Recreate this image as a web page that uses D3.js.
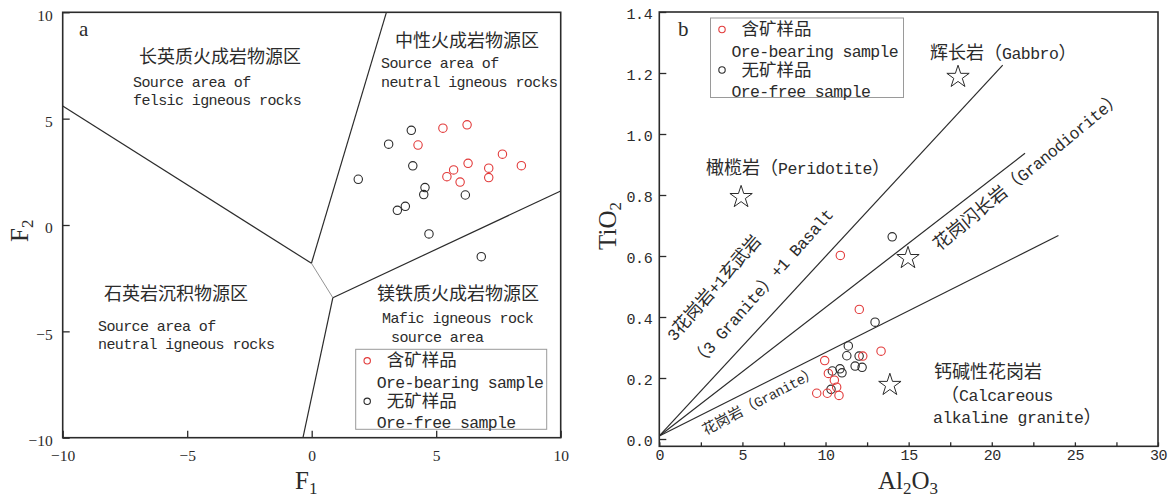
<!DOCTYPE html>
<html>
<head>
<meta charset="utf-8">
<script src="https://cdn.jsdelivr.net/npm/d3@7/dist/d3.min.js"></script>
<style>
  html, body { margin: 0; padding: 0; background: #fff; }
  svg { display: block; }
  text { white-space: pre; }
</style>
</head>
<body>
<script>
// ---------- Panel a: F1–F2 discriminant function scores ----------
const oreF1  = [5.27, 6.24, 4.27, 7.66, 6.28, 8.42, 5.70, 7.11, 5.43, 7.11, 5.96];
const oreF2  = [4.55, 4.71, 3.76, 3.33, 2.90, 2.79, 2.59, 2.67, 2.27, 2.23, 2.02];
const freeF1 = [4.00, 3.09, 4.06, 1.87, 4.55, 4.50, 6.17, 3.76, 3.44, 4.71, 6.81];
const freeF2 = [4.45, 3.80, 2.78, 2.15, 1.76, 1.43, 1.41, 0.88, 0.69, -0.42, -1.49];
// provenance field boundaries: [F1 start, F1 end] and [F2 start, F2 end]
const fieldLinesF1 = [[-10, -0.01], [-0.01, 3.0], [0.85, 10], [0.85, -0.35]];
const fieldLinesF2 = [[5.6, -1.80], [-1.80, 10], [-3.42, 1.6], [-3.42, -10]];
const junctionF1 = [-0.01, 0.85];
const junctionF2 = [-1.80, -3.42];
const ticksA = [-10, -5, 0, 5, 10];

// ---------- Panel b: Al2O3–TiO2 ----------
const oreAl  = [10.89, 12.03, 13.34, 9.95, 12.24, 10.17, 10.53, 10.67, 9.47, 10.11, 10.81];
const oreTi  = [0.602, 0.425, 0.288, 0.257, 0.272, 0.215, 0.193, 0.170, 0.150, 0.150, 0.143];
const freeAl = [14.01, 12.98, 11.37, 11.28, 12.02, 11.78, 12.20, 10.41, 10.87, 10.99, 10.33];
const freeTi = [0.663, 0.383, 0.305, 0.273, 0.272, 0.239, 0.235, 0.223, 0.230, 0.217, 0.163];
// reference rock compositions (stars)
const rockNames = ["Gabbro", "Peridotite", "Granodiorite", "Calc-alkaline granite"];
const rockAl = [17.97, 4.92, 14.96, 13.87];
const rockTi = [1.187, 0.793, 0.593, 0.177];
// mixing trend lines from the origin
const trendNames = ["3 Granite + 1 Basalt", "Granodiorite", "Granite"];
const trendStartAl = 0, trendStartTi = 0.01;
const trendEndAl = [20.66, 22.0, 24.01];
const trendEndTi = [1.226, 0.937, 0.667];
const ticksBx = [0, 5, 10, 15, 20, 25, 30];
const minorBx = [2.5, 7.5, 12.5, 17.5, 22.5, 27.5];
const ticksBy = [0, 0.2, 0.4, 0.6, 0.8, 1.0, 1.2, 1.4];

// ---------- styling ----------
const MONO = "'Liberation Mono', 'Noto Sans CJK SC', monospace";
const CJK = "'Noto Sans CJK SC', sans-serif";
const SERIF = "'Liberation Serif', 'DejaVu Serif', serif";
const INK = "#2b2b2b";
const RED = "#e23a3a";

const svg = d3.select("body").append("svg")
  .attr("width", 1168).attr("height", 499);

const CJK_RUN = /[\u3000-\u9fff\uff00-\uffef]+|[^\u3000-\u9fff\uff00-\uffef]+/g;
const IS_CJK = /[\u3000-\u9fff\uff00-\uffef]/;

// Chinese runs in the CJK face, Latin runs in a monospace face
// tightened to a fixed advance per character
function label(g, str, x, y, cjkSize, latSize, latAdv, opts = {}) {
  const t = g.append("text")
    .attr("fill", opts.fill || INK)
    .attr("font-size", latSize)
    .attr("dy", "0.34em")
    .attr("text-anchor", opts.anchor || "start");
  if (opts.rotate !== undefined) {
    t.attr("transform", `translate(${x},${y}) rotate(${opts.rotate})`);
  } else {
    t.attr("x", x).attr("y", y);
  }
  str.match(CJK_RUN).forEach(run => {
    const c = IS_CJK.test(run);
    const ts = t.append("tspan")
      .attr("font-family", c ? CJK : MONO)
      .attr("font-size", c ? cjkSize : latSize)
      .text(run);
    if (!c) ts.attr("letter-spacing", (latAdv - 0.6 * latSize).toFixed(2));
  });
  return t;
}

function styleAxis(g, font, size, spacing) {
  g.select(".domain").remove();
  g.selectAll(".tick line").attr("stroke", INK).attr("stroke-width", 1.3);
  g.selectAll(".tick text").attr("font-family", font).attr("font-size", size).attr("fill", INK);
  if (spacing !== undefined) g.selectAll(".tick text").attr("letter-spacing", spacing);
}

function circles(g, xs, ys, sx, sy, color) {
  g.selectAll(null).data(xs).enter().append("circle")
    .attr("cx", (d, i) => sx(xs[i]))
    .attr("cy", (d, i) => sy(ys[i]))
    .attr("r", 4.2)
    .attr("fill", "none")
    .attr("stroke", color)
    .attr("stroke-width", 1.1);
}

function legend(g, x0, y0, w, h, items) {
  g.append("rect").attr("x", x0).attr("y", y0).attr("width", w).attr("height", h)
    .attr("fill", "#fff").attr("stroke", "#9a9a9a").attr("stroke-width", 1);
  items.forEach((it, i) => {
    const yc = y0 + 11.5 + i * 40.5;
    g.append("circle").attr("cx", x0 + 11.5).attr("cy", yc).attr("r", 3.2)
      .attr("fill", "none").attr("stroke", it.color).attr("stroke-width", 1.1);
    label(g, it.zh, x0 + 31, yc, 17.5, 16.5, 9.25);
    label(g, it.en, x0 + 21, yc + 21.5, 17.5, 16.5, 9.25);
  });
}

// ================= Panel a =================
const xA = d3.scaleLinear().domain([-10, 10]).range([62.7, 560.7]);
const yA = d3.scaleLinear().domain([-10, 10]).range([437.7, 12.3]);
const gA = svg.append("g");

// field boundaries
fieldLinesF1.forEach((fx, i) => {
  gA.append("line")
    .attr("x1", xA(fx[0])).attr("y1", yA(fieldLinesF2[i][0]))
    .attr("x2", xA(fx[1])).attr("y2", yA(fieldLinesF2[i][1]))
    .attr("stroke", INK).attr("stroke-width", 1.2);
});
gA.append("line")
  .attr("x1", xA(junctionF1[0])).attr("y1", yA(junctionF2[0]))
  .attr("x2", xA(junctionF1[1])).attr("y2", yA(junctionF2[1]))
  .attr("stroke", "#777").attr("stroke-width", 0.8);

// field names
const RA = [18, 15, 8.4];
label(gA, "长英质火成岩物源区", 139, 58, ...RA);
label(gA, "Source area of", 133, 82, ...RA);
label(gA, "felsic igneous rocks", 133, 100, ...RA);
label(gA, "中性火成岩物源区", 395, 42, ...RA);
label(gA, "Source area of", 381, 63, ...RA);
label(gA, "neutral igneous rocks", 381, 82, ...RA);
label(gA, "石英岩沉积物源区", 104, 295, ...RA);
label(gA, "Source area of", 98, 326, ...RA);
label(gA, "neutral igneous rocks", 98, 344, ...RA);
label(gA, "镁铁质火成岩物源区", 377, 295, ...RA);
label(gA, "Mafic igneous rock", 382, 318, ...RA);
label(gA, "source area", 391, 337, ...RA);

circles(gA, freeF1, freeF2, xA, yA, INK);
circles(gA, oreF1, oreF2, xA, yA, RED);

legend(gA, 355.7, 349.3, 191, 80, [
  { color: RED, zh: "含矿样品", en: "Ore-bearing sample" },
  { color: INK, zh: "无矿样品", en: "Ore-free sample" }
]);

// axes and frame
const axAx = gA.append("g").attr("transform", `translate(0,${yA(-10)})`)
  .call(d3.axisBottom(xA).tickValues(ticksA).tickSize(-7).tickPadding(12));
styleAxis(axAx, SERIF, 15.5);
const axAy = gA.append("g").attr("transform", `translate(${xA(-10)},0)`)
  .call(d3.axisLeft(yA).tickValues(ticksA).tickSize(-7).tickPadding(10));
styleAxis(axAy, SERIF, 15.5);
axAy.selectAll(".tick text").attr("dy", "0.5em");
gA.append("rect")
  .attr("x", xA(-10)).attr("y", yA(10))
  .attr("width", xA(10) - xA(-10)).attr("height", yA(-10) - yA(10))
  .attr("fill", "none").attr("stroke", INK).attr("stroke-width", 1.6);

gA.append("text").attr("x", 79).attr("y", 36).attr("font-family", SERIF)
  .attr("font-size", 21).attr("fill", INK).text("a");

const f1 = gA.append("text").attr("x", 295).attr("y", 489)
  .attr("font-family", SERIF).attr("font-size", 25).attr("fill", INK);
f1.append("tspan").text("F");
f1.append("tspan").attr("font-size", 17).attr("dy", 5).text("1");
const f2 = gA.append("text").attr("transform", "translate(28,242) rotate(-90)")
  .attr("font-family", SERIF).attr("font-size", 25).attr("fill", INK);
f2.append("tspan").text("F");
f2.append("tspan").attr("font-size", 17).attr("dy", 5).text("2");

// ================= Panel b =================
const xB = d3.scaleLinear().domain([0, 30]).range([659.3, 1158]);
const yB = d3.scaleLinear().domain([0, 1.4]).range([439, 12]);
const yBottomB = -0.024;
const gB = svg.append("g");

// trend lines
trendEndAl.forEach((al, i) => {
  gB.append("line")
    .attr("x1", xB(trendStartAl)).attr("y1", yB(trendStartTi))
    .attr("x2", xB(al)).attr("y2", yB(trendEndTi[i]))
    .attr("stroke", INK).attr("stroke-width", 1.2);
});

// reference rocks
const star = d3.symbol().type(d3.symbolStar).size(155);
rockAl.forEach((al, i) => {
  gB.append("path").attr("d", star())
    .attr("transform", `translate(${xB(al)},${yB(rockTi[i])})`)
    .attr("fill", "none").attr("stroke", INK).attr("stroke-width", 1.0)
    .attr("stroke-linejoin", "miter");
});

const RB = [18, 16.5, 9.4];
label(gB, "辉长岩（Gabbro）", 930, 53, ...RB);
label(gB, "橄榄岩（Peridotite）", 706, 168, ...RB);
label(gB, "钙碱性花岗岩", 934, 372, ...RB);
label(gB, "（Calcareous", 941, 395, ...RB);
label(gB, "alkaline granite）", 933, 417, ...RB);
label(gB, "3花岗岩+1玄武岩", 714, 288, 17.5, 16.5, 9.4, { anchor: "middle", rotate: -49 });
label(gB, "（3 Granite）+1 Basalt", 762, 288, 17.5, 16.5, 9.4, { anchor: "middle", rotate: -48.5 });
label(gB, "花岗闪长岩（Granodiorite）", 1028, 171, 18, 16.5, 9.4, { anchor: "middle", rotate: -39.5 });
label(gB, "花岗岩（Granite）", 760, 401, 14.5, 14, 7.9, { anchor: "middle", rotate: -28 });

circles(gB, freeAl, freeTi, xB, yB, INK);
circles(gB, oreAl, oreTi, xB, yB, RED);

legend(gB, 710.5, 18, 193, 79.5, [
  { color: RED, zh: "含矿样品", en: "Ore-bearing sample" },
  { color: INK, zh: "无矿样品", en: "Ore-free sample" }
]);

const axBx = gB.append("g").attr("transform", `translate(0,${yB(yBottomB)})`)
  .call(d3.axisBottom(xB).tickValues(ticksBx).tickSize(-4).tickPadding(3).tickFormat(d3.format("d")));
styleAxis(axBx, MONO, 15, -0.4);
gB.append("g").attr("transform", `translate(0,${yB(yBottomB)})`)
  .call(d3.axisBottom(xB).tickValues(minorBx).tickSize(-4).tickFormat(""))
  .call(g => styleAxis(g, MONO, 15));
const axBy = gB.append("g").attr("transform", `translate(${xB(0)},0)`)
  .call(d3.axisLeft(yB).tickValues(ticksBy).tickSize(-7).tickPadding(7).tickFormat(d3.format(".1f")));
styleAxis(axBy, MONO, 15, -0.4);
axBy.selectAll(".tick text").attr("dy", "0.42em");
gB.append("rect")
  .attr("x", xB(0)).attr("y", yB(1.4))
  .attr("width", xB(30) - xB(0)).attr("height", yB(yBottomB) - yB(1.4))
  .attr("fill", "none").attr("stroke", INK).attr("stroke-width", 1.6);

gB.append("text").attr("x", 678).attr("y", 36).attr("font-family", SERIF)
  .attr("font-size", 21).attr("fill", INK).text("b");

const alT = gB.append("text").attr("x", 908).attr("y", 489).attr("text-anchor", "middle")
  .attr("font-family", SERIF).attr("font-size", 25).attr("fill", INK);
alT.append("tspan").text("Al");
alT.append("tspan").attr("font-size", 17).attr("dy", 5).text("2");
alT.append("tspan").attr("dy", -5).text("O");
alT.append("tspan").attr("font-size", 17).attr("dy", 5).text("3");
const tiT = gB.append("text").attr("transform", "translate(616,226) rotate(-90)")
  .attr("text-anchor", "middle")
  .attr("font-family", SERIF).attr("font-size", 25).attr("fill", INK);
tiT.append("tspan").text("TiO");
tiT.append("tspan").attr("font-size", 17).attr("dy", 5).text("2");
</script>
</body>
</html>
